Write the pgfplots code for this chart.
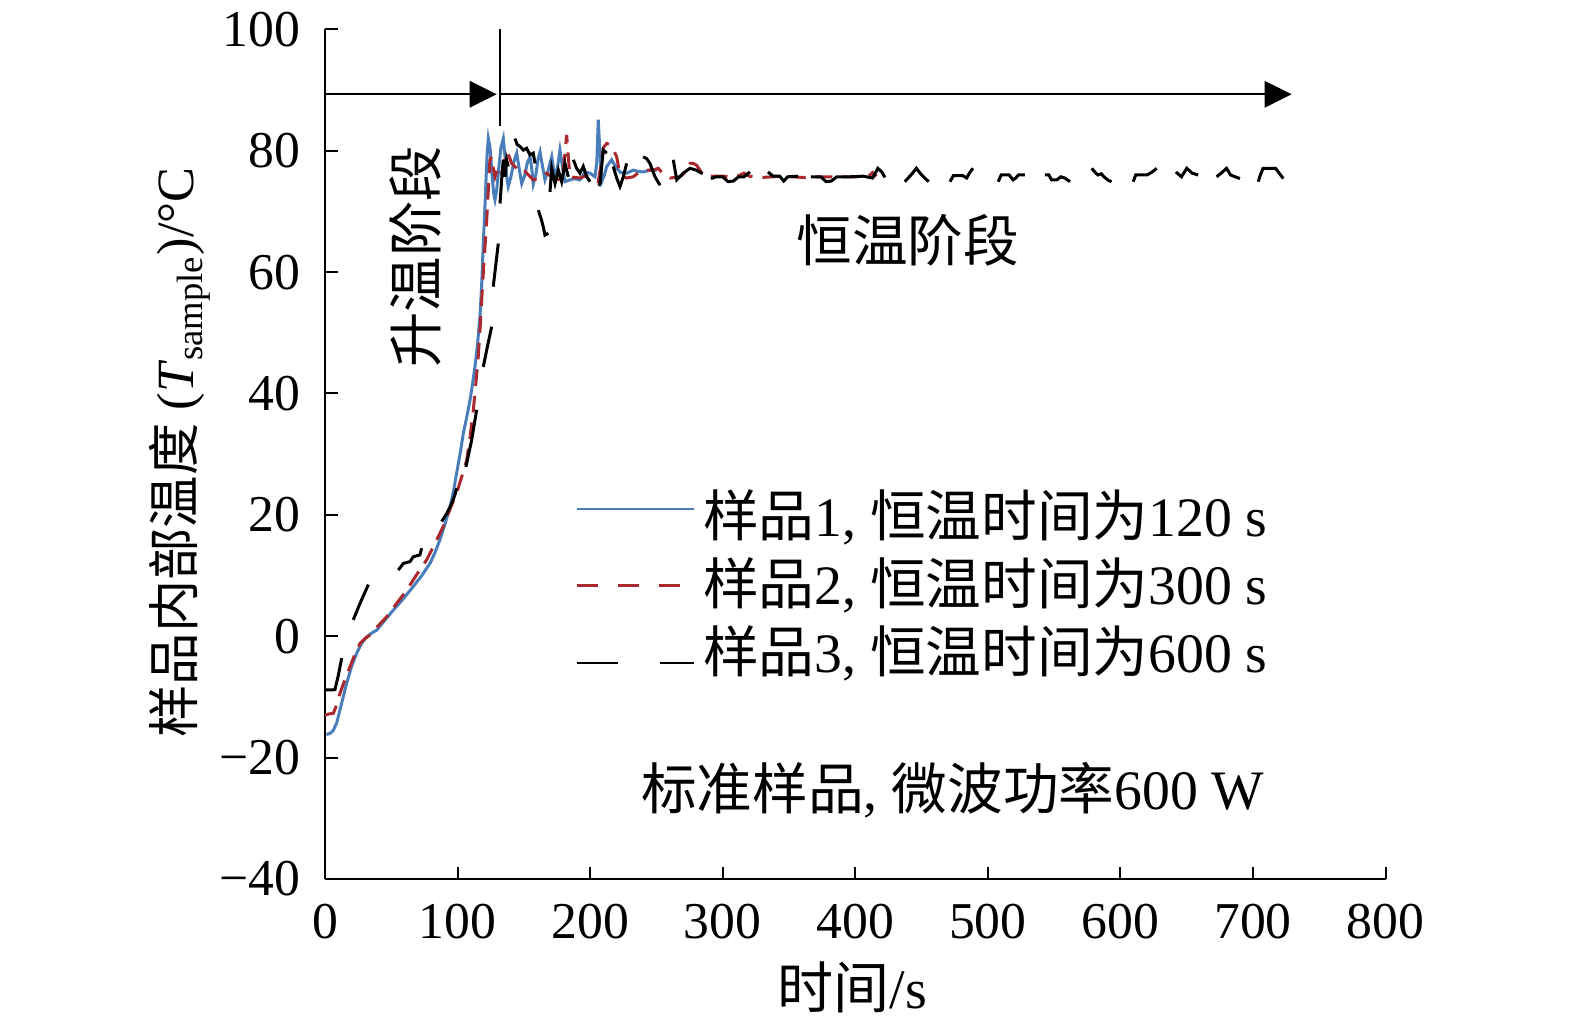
\documentclass[border=0pt]{standalone}
\usepackage{fontspec}
\setmainfont{Liberation Serif}
\newfontfamily\cjk{Noto Sans CJK SC}
\usepackage{pgfplots}
\usepackage{pgfplotstable}
\pgfplotsset{compat=1.18}
\usetikzlibrary{arrows.meta}

\definecolor{sblue}{RGB}{74,126,187}
\definecolor{sred}{RGB}{170,40,46}

\pgfplotstableread{
t T
1 -16.2
3.8 -16.0
6 -15.6
8.8 -14.3
12 -11.5
16.4 -7.7
20 -5.0
23.9 -2.8
27.5 -1.2
31.5 -0.1
35 0.5
39 1.0
45 2.6
51.5 4.3
58 5.9
66.6 8.2
73 10.0
79.2 12.0
83 13.8
86.7 15.9
90.5 18.5
94.3 21.3
97 24
99.3 26.9
102 30.2
104.3 33.4
107 36.2
109.4 38.9
111.3 41.6
113.1 44.4
115 48
116.9 52.7
118.2 58
119.4 64.7
120.5 70
121.5 75.5
122.3 79.5
123.2 82.0
124.5 80.5
126 76
127.2 73
128.2 71.9
129.5 73.5
131 77
132.7 80.5
134.5 82.0
136 78.5
137.2 75.5
138.2 74.1
140 75.5
142.5 78.2
144.6 79.6
146.5 77
148.4 74.6
150.5 75.8
152.6 78
154.6 79.0
156 77
157.1 74.5
159 76
160.6 78.5
162.2 79.8
164 77.5
165.9 75.2
168 76.5
171.0 79.0
172.3 77
173.5 75.5
175.5 77.5
177.2 80.1
179 77.5
181.0 74.9
184.8 75.2
188 75.4
192.3 75.2
196.1 76.5
199.9 76.3
203.6 75.7
205 78
206.1 85.1
207.3 80
208.7 74.9
210.5 75.8
212.5 77.4
216.2 78.5
220.0 77.1
223 76.4
227.5 76.3
232.5 76.8
236 76.6
240 76.5
245 76.8
250.4 76.8
}\sampleone

\pgfplotstableread{
t T
0 -13.0
3 -12.8
6.3 -12.7
9 -11.2
11.3 -9.4
15 -7.2
18.9 -5.0
22.5 -3.0
26.4 -1.2
30 -0.4
33.9 0.2
40 1.7
46.5 3.2
54 5.4
61.6 7.6
69 10.1
76.7 12.6
83 15.3
89.2 18.1
94 20.8
99.3 23.6
103 26.2
106.9 29.0
109.5 33
111.9 37.3
113.8 41.7
115.6 46.1
117 50.8
118.2 55.4
120 62
122.0 68.6
123.3 74
124.4 78.5
125.7 79
127 77
128.2 75.7
130.7 77.4
133.3 76.3
135.2 78.2
137.0 79.8
139 79
140.8 77.9
144.6 77.1
148.4 77.4
152.1 76.3
157.1 75.2
162.2 75.5
167.2 76.3
172.2 75.5
177.2 75.2
179.5 76.5
181.0 79.5
182.3 82.6
183.5 79
184.8 75.7
188.5 75.6
192.3 75.5
196 75.8
199.9 75.7
203 75.3
206.1 74.9
208 77.5
209.9 80.5
212.5 81.2
214.5 81
216.2 80.7
220.0 79.0
222.5 76.0
227.5 75.5
232.5 75.7
236 76.3
240.0 76.8
247.6 76.8
251.4 77.1
255 76.2
260.2 75.5
267.7 75.7
272 76.5
275.3 77.9
278 77.9
280.3 77.6
284 76.4
290 75.8
300 75.8
310 75.7
316 76.3
320 75.8
330 75.6
345 75.8
360 75.6
370 75.7
380 75.7
392 75.7
400 75.7
410 75.8
413 76.4
416 75.8
}\sampletwo

\pgfplotstableread{
t T
0.5 -8.85
4 -8.85
7.5 -8.8
10 -6.5
12.6 -3.6
nan nan
21.3 2.7
26.4 5.4
32.7 8.5
nan nan
55.3 10.9
59.1 12.0
64.1 12.3
66.6 13.1
71.6 13.4
72.9 14.5
nan nan
88 18.9
92 20.3
95.6 21.9
98 23.3
99.3 24.4
nan nan
106.3 27.9
110.6 32.3
114.4 37.3
nan nan
119.4 44.4
122 47.2
125.7 51.0
nan nan
126.9 57.6
130.7 64.7
nan nan
132 71.3
133.5 76
134.5 78.5
135.8 75.7
137 78.5
138.2 77.4
nan nan
143.3 82.0
145 81
147.1 80.7
149.6 80.1
152.1 80.4
154.6 79.3
157.1 79.6
158.4 77.9
nan nan
160.9 70.2
163 68.8
164.6 67.5
165.9 66.1
168.4 66.4
nan nan
169.7 73.2
171 77.1
173.5 74.6
176 76.8
178.5 74.9
181 77.9
183.5 75.7
nan nan
187.3 78.5
189.8 77.1
192.3 76.3
194.8 77.4
197.4 75.7
199.9 74.9
nan nan
206.1 74.3
207.4 74.5
209.9 80.1
212.5 79.6
nan nan
217.4 77.4
220 75.5
222.5 74.1
225 75.7
227.5 77.9
nan nan
240 79
242.6 78.7
245.1 77.9
248.9 75.7
252.7 74.3
nan nan
262.7 78.5
265.3 75.2
270.2 76.3
275.3 77.1
280 76.8
284.8 76.2
nan nan
291.1 75.4
295 75.7
300 75.7
304 74.9
308 75.0
312 75.7
316 75.7
320.5 76.5
nan nan
334.1 76.5
338 75.8
343 75.8
346 75.0
349 75.7
356.7 75.8
nan nan
366.5 75.7
374 75.7
378 74.9
382 75.0
386 75.7
396 75.7
406 75.8
413 75.5
417 77.1
420 76.5
422.3 75.6
nan nan
437.3 74.9
442 76.0
446 77.1
450 76.0
455.3 74.9
nan nan
471.4 74.9
474 75.9
481 75.9
484 75.5
486 76.3
488.7 77.1
nan nan
507.8 74.9
510 76.0
516 76.0
519 75.2
521 75.5
523 76.0
527.9 76.0
nan nan
543 76.0
546 76.0
548 75.2
552 75.2
555 75.7
558 75.5
561.9 74.9
nan nan
578.3 77.1
581 76.4
583 76.0
585.5 76.2
588 75.6
591 75.1
593.3 74.9
nan nan
609.6 74.9
611.5 76.0
615 76.0
620 76.0
624 76.5
627.3 77.1
nan nan
641.8 76.5
646 75.7
650 77.1
654 76.3
658.6 76.0
nan nan
672.5 75.7
677 76.5
680 77.1
683 76.0
690.1 75.4
nan nan
703.9 74.9
705.5 76.0
707.5 77.1
717 77.1
719 76.5
722.8 75.4
}\samplethree

\begin{document}
\begin{tikzpicture}[font=\fontsize{15.5}{18}\selectfont]
\useasboundingbox (-97.5pt,-43.8pt) rectangle (375pt,263.7pt);
\begin{axis}[
  at={(0pt,0pt)}, anchor=south west,
  scale only axis,
  width=318.2pt, height=254.9pt,
  xmin=0, xmax=800, ymin=-40, ymax=100,
  axis lines*=left,
  axis line style={line width=0.6pt, black},
  tick align=inside,
  major tick length=3.75pt,
  tick style={line width=0.6pt, black},
  xtick={0,100,...,800},
  ytick={-40,-20,0,20,40,60,80,100},
  yticklabels={−40,−20,0,20,40,60,80,100},
  /pgf/number format/assume math mode=true,
  xticklabel style={font=\fontsize{15.5}{18}\selectfont, inner sep=0pt, anchor=north, yshift=-7.2pt},
  yticklabel style={font=\fontsize{15.5}{18}\selectfont, inner sep=0pt, anchor=east, xshift=-7.3pt},
  xlabel={{\cjk 时间}/s},
  xlabel style={at={(axis description cs:0.497,-0.128)}, anchor=center, inner sep=0pt, font=\fontsize{16.8}{19}\selectfont},
  ylabel={{\cjk 样品内部温度} (\textit{T}\textsubscript{sample})/°C},
  ylabel style={at={(axis description cs:-0.1367,0.502)}, anchor=center, rotate=0, inner sep=0pt, font=\fontsize{15.7}{18}\selectfont},
  clip=false,
  unbounded coords=jump,
  legend cell align=left,
  legend style={at={(axis cs:188.6,23.0)}, anchor=north west, draw=none, fill=none,
    inner sep=0pt, outer sep=0pt, row sep=4.4pt, column sep=2.4pt,
    nodes={inner sep=0pt, text height=12pt, text depth=4pt},
    font=\fontsize{16.7}{19}\selectfont},
]
\addplot[color=sblue, line width=0.9pt, solid,
  legend image code/.code={\draw[sblue, line width=0.8pt] (0pt,4.3pt) -- (35.1pt,4.3pt);}]
  table[x=t, y=T] {\sampleone};
\addlegendentry{{\cjk 样品}1, {\cjk 恒温时间为}120 s}
\addplot[color=sred, line width=0.9pt, dash pattern=on 5pt off 3pt,
  legend image code/.code={\draw[sred, line width=0.9pt, dash pattern=on 6.3pt off 6pt] (0pt,1.6pt) -- (35.1pt,1.6pt);}]
  table[x=t, y=T] {\sampletwo};
\addlegendentry{{\cjk 样品}2, {\cjk 恒温时间为}300 s}
\addplot[color=black, line width=0.9pt, solid,
  legend image code/.code={\draw[black, line width=0.8pt, dash pattern=on 12.3pt off 12.6pt] (0pt,-1.1pt) -- (35.1pt,-1.1pt);}]
  table[x=t, y=T] {\samplethree};
\addlegendentry{{\cjk 样品}3, {\cjk 恒温时间为}600 s}

\draw[line width=0.6pt, -{Triangle[length=8.1pt,width=7.9pt]}] (axis cs:0,89.3) -- (axis cs:129.5,89.3);
\draw[line width=0.6pt] (axis cs:132,100) -- (axis cs:132,84.0);
\draw[line width=0.6pt, -{Triangle[length=8.1pt,width=7.9pt]}] (axis cs:132,89.3) -- (axis cs:729.1,89.3);
\node[rotate=90, inner sep=0pt, font=\fontsize{16.6}{19}\selectfont] at (axis cs:67.9,62.5) {\cjk 升温阶段};
\node[inner sep=0pt, font=\fontsize{16.7}{19}\selectfont] at (axis cs:439.5,65.3) {\cjk 恒温阶段};
\node[inner sep=0pt, anchor=east, font=\fontsize{16.7}{19}\selectfont] at (axis cs:709,-25.3) {{\cjk 标准样品}, {\cjk 微波功率}600 W};
\end{axis}
\end{tikzpicture}
\end{document}
